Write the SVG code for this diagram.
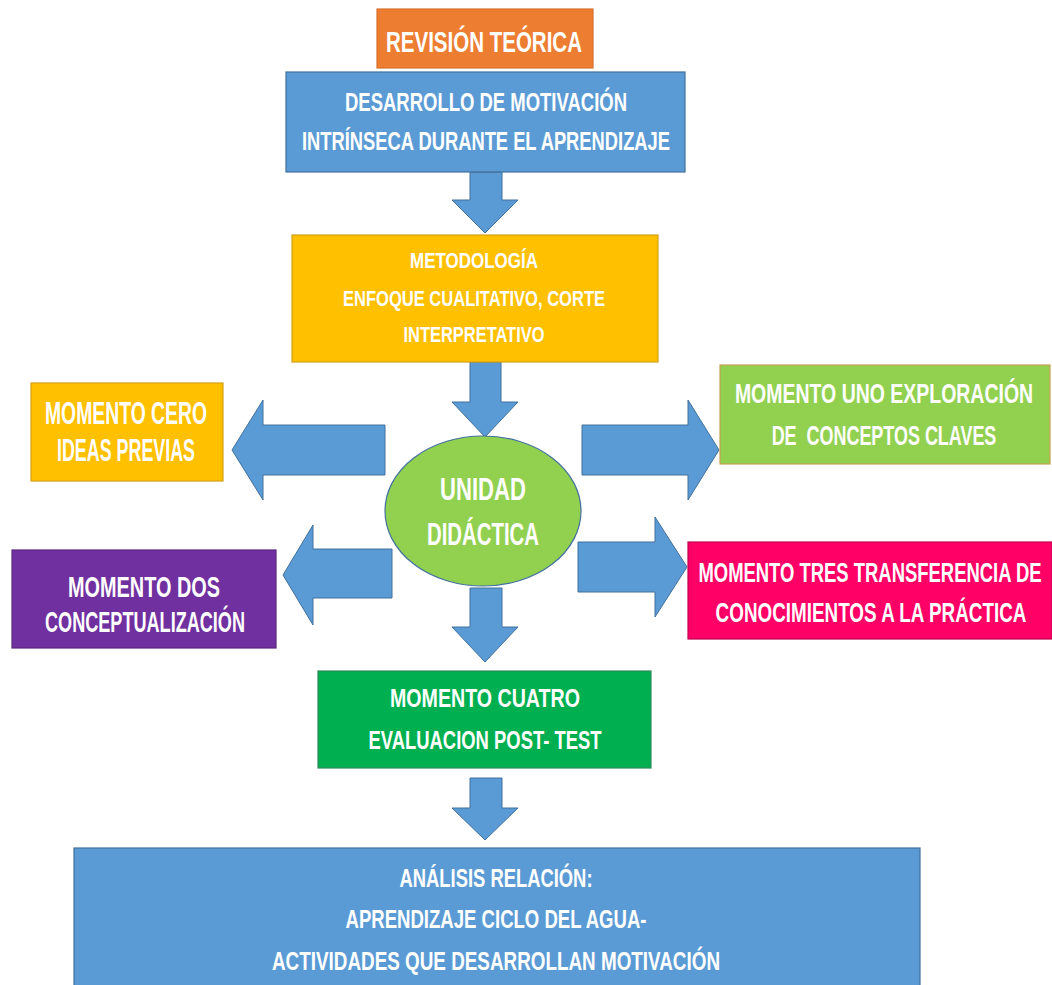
<svg xmlns="http://www.w3.org/2000/svg" width="1052" height="985" viewBox="0 0 1052 985">
<style>
text{font-family:"Liberation Sans",Arial,sans-serif;font-weight:bold;fill:#FFFFFF;text-anchor:middle}
.arrow{fill:#5B9BD5;stroke:#41719C;stroke-width:1}
.box{stroke-width:1.2}
</style>
<rect width="1052" height="985" fill="#FFFFFF"/>
<g id="connectors">
<polygon class="arrow" points="470,172 502,172 502,200 518,200 485,233 452,200 470,200"/>
<polygon class="arrow" points="470,362 501,362 501,402 518,402 485,437 452,402 470,402"/>
<polygon class="arrow" points="385,425 263,425 263,400 232,450 263,500 263,475 385,475"/>
<polygon class="arrow" points="392,549 313,549 313,525 283,575 313,625 313,598 392,598"/>
<polygon class="arrow" points="582,425 688,425 688,400 719,450 688,500 688,475 582,475"/>
<polygon class="arrow" points="578,542 655,542 655,517 687,567 655,617 655,592 578,592"/>
<polygon class="arrow" points="470,588 502,588 502,627 518,627 485,662 452,627 470,627"/>
<polygon class="arrow" points="470,778 502,778 502,808 518,808 485,840 452,808 470,808"/>
</g>
<g id="revision">
<rect class="box" x="377" y="9" width="216" height="59" fill="#ED7D31" stroke="#D9712B"/>
<text x="484" y="52" font-size="29" textLength="196" lengthAdjust="spacingAndGlyphs">REVISIÓN TEÓRICA</text>
</g>
<g id="desarrollo">
<rect class="box" x="286" y="72" width="399" height="100" fill="#5B9BD5" stroke="#41719C"/>
<text x="486" y="111" font-size="26" textLength="282" lengthAdjust="spacingAndGlyphs">DESARROLLO DE MOTIVACIÓN</text>
<text x="486" y="150" font-size="26" textLength="368" lengthAdjust="spacingAndGlyphs">INTRÍNSECA DURANTE EL APRENDIZAJE</text>
</g>
<g id="metodologia">
<rect class="box" x="292" y="235" width="366" height="127" fill="#FFC000" stroke="#D4A017"/>
<text x="474" y="268" font-size="22" textLength="128" lengthAdjust="spacingAndGlyphs">METODOLOGÍA</text>
<text x="474" y="306" font-size="22" textLength="262" lengthAdjust="spacingAndGlyphs">ENFOQUE CUALITATIVO, CORTE</text>
<text x="474" y="342" font-size="22" textLength="141" lengthAdjust="spacingAndGlyphs">INTERPRETATIVO</text>
</g>
<g id="momento-cero">
<rect class="box" x="31" y="383" width="192" height="98" fill="#FFC000" stroke="#D4A017"/>
<text x="126" y="424" font-size="31" textLength="162" lengthAdjust="spacingAndGlyphs">MOMENTO CERO</text>
<text x="126" y="461" font-size="31" textLength="138" lengthAdjust="spacingAndGlyphs">IDEAS PREVIAS</text>
</g>
<g id="momento-dos">
<rect class="box" x="12" y="550" width="264" height="98" fill="#7030A0" stroke="#5A2680"/>
<text x="144" y="597" font-size="30" textLength="152" lengthAdjust="spacingAndGlyphs">MOMENTO DOS</text>
<text x="145" y="632" font-size="30" textLength="200" lengthAdjust="spacingAndGlyphs">CONCEPTUALIZACIÓN</text>
</g>
<g id="unidad">
<ellipse cx="483" cy="511" rx="98" ry="75" fill="#92D050" stroke="#41719C" stroke-width="1.2"/>
<text x="483" y="500" font-size="31" textLength="86" lengthAdjust="spacingAndGlyphs">UNIDAD</text>
<text x="483" y="545" font-size="31" textLength="112" lengthAdjust="spacingAndGlyphs">DIDÁCTICA</text>
</g>
<g id="momento-uno">
<rect class="box" x="720" y="365" width="330" height="99" fill="#92D050" stroke="#C8A050"/>
<text transform="translate(884,403) scale(0.7,1)" x="0" y="0" font-size="27" textLength="426" lengthAdjust="spacingAndGlyphs">MOMENTO UNO EXPLORACIÓN</text>
<text transform="translate(884,445) scale(0.7,1)" x="0" y="0" font-size="27" textLength="321" lengthAdjust="spacingAndGlyphs" xml:space="preserve">DE  CONCEPTOS CLAVES</text>
</g>
<g id="momento-tres">
<rect class="box" x="688" y="542" width="364" height="97" fill="#FF0066" stroke="#C0004D"/>
<text transform="translate(870,582) scale(0.656,1)" x="0" y="0" font-size="28" textLength="523" lengthAdjust="spacingAndGlyphs">MOMENTO TRES TRANSFERENCIA DE</text>
<text transform="translate(871,622) scale(0.7,1)" x="0" y="0" font-size="28" textLength="444" lengthAdjust="spacingAndGlyphs">CONOCIMIENTOS A LA PRÁCTICA</text>
</g>
<g id="momento-cuatro">
<rect class="box" x="318" y="671" width="333" height="97" fill="#00B050" stroke="#2E8B57"/>
<text x="485" y="707" font-size="26" textLength="190" lengthAdjust="spacingAndGlyphs">MOMENTO CUATRO</text>
<text x="485" y="749" font-size="26" textLength="233" lengthAdjust="spacingAndGlyphs">EVALUACION POST- TEST</text>
</g>
<g id="analisis">
<rect class="box" x="74" y="848" width="846" height="145" fill="#5B9BD5" stroke="#41719C"/>
<text x="496" y="887" font-size="25" textLength="193" lengthAdjust="spacingAndGlyphs">ANÁLISIS RELACIÓN:</text>
<text x="496" y="928" font-size="25" textLength="301" lengthAdjust="spacingAndGlyphs">APRENDIZAJE CICLO DEL AGUA-</text>
<text x="496" y="970" font-size="25" textLength="448" lengthAdjust="spacingAndGlyphs">ACTIVIDADES QUE DESARROLLAN MOTIVACIÓN</text>
</g>
</svg>
